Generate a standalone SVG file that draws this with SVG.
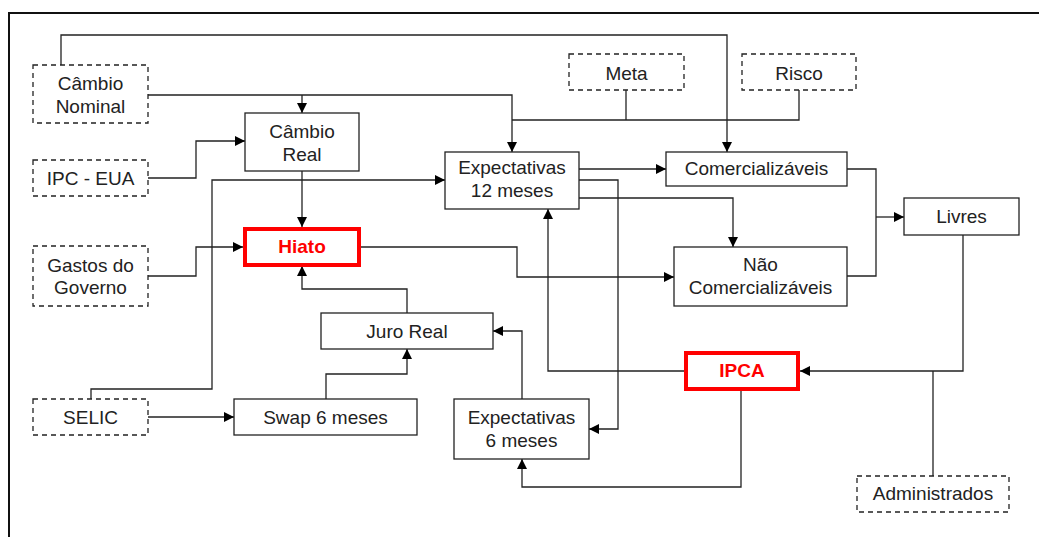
<svg xmlns="http://www.w3.org/2000/svg" width="1039" height="537" viewBox="0 0 1039 537">
<style>
.box{fill:#fff;stroke:#222;stroke-width:1.3}
.dash{fill:#fff;stroke:#222;stroke-width:1.3;stroke-dasharray:5 4}
.hot{fill:#fff;stroke:#f00;stroke-width:4}
.t{font-family:"Liberation Sans",Arial,sans-serif;font-size:19px;fill:#222;text-anchor:middle}
.tr{font-family:"Liberation Sans",Arial,sans-serif;font-size:19px;font-weight:bold;fill:#f00;text-anchor:middle}
.c{fill:none;stroke:#222;stroke-width:1.3}
.a{marker-end:url(#ah)}
</style>
<defs>
<marker id="ah" viewBox="0 0 10 10" refX="10" refY="5" markerWidth="10" markerHeight="10" markerUnits="userSpaceOnUse" orient="auto">
<path d="M0,0 L10,5 L0,10 Z" fill="#000"/>
</marker>
</defs>
<rect width="1039" height="537" fill="#fff"/>
<path d="M9,537 V13 H1039" fill="none" stroke="#111" stroke-width="2"/>
<g id="connectors">
<path class="c a" d="M61,65 V35 H727 V152"/>
<path class="c a" d="M148,95 H512 V152"/>
<path class="c a" d="M302,95 V113"/>
<path class="c" d="M626,90 V120"/>
<path class="c" d="M512,120 H799 V90"/>
<path class="c a" d="M148,178 H196 V141 H245"/>
<path class="c a" d="M302,171 V227"/>
<path class="c a" d="M91,399 V389 H212 V180 H445"/>
<path class="c a" d="M148,276 H196 V247 H243"/>
<path class="c a" d="M361,247 H517 V277 H674"/>
<path class="c a" d="M407,313 V289 H302 V266"/>
<path class="c a" d="M326,399 V374 H407 V349"/>
<path class="c a" d="M522,399 V331 H493"/>
<path class="c a" d="M684,371 H548 V209"/>
<path class="c a" d="M579,169 H666"/>
<path class="c a" d="M579,180 H618 V429 H589"/>
<path class="c a" d="M579,198 H733 V247"/>
<path class="c" d="M847,169 H876 V276 H847"/>
<path class="c a" d="M876,217 H904"/>
<path class="c a" d="M963,235 V371 H800"/>
<path class="c" d="M933,476 V371"/>
<path class="c a" d="M741,391 V487 H522 V459"/>
<path class="c a" d="M148,417 H234"/>
</g>
<g id="cambio-nominal"><rect class="dash" x="33" y="65" width="115" height="58"/><text class="t" x="90.5" y="90">Câmbio</text><text class="t" x="90.5" y="113">Nominal</text></g>
<g id="ipc-eua"><rect class="dash" x="33" y="160" width="115" height="36"/><text class="t" x="90.5" y="185">IPC - EUA</text></g>
<g id="gastos"><rect class="dash" x="33" y="246" width="115" height="60"/><text class="t" x="90.5" y="272">Gastos do</text><text class="t" x="90.5" y="294">Governo</text></g>
<g id="selic"><rect class="dash" x="33" y="399" width="115" height="36"/><text class="t" x="90.5" y="424">SELIC</text></g>
<g id="cambio-real"><rect class="box" x="245" y="113" width="114" height="58"/><text class="t" x="302" y="138">Câmbio</text><text class="t" x="302" y="161">Real</text></g>
<g id="hiato"><rect class="hot" x="245" y="229" width="114" height="36"/><text class="tr" x="302" y="253">Hiato</text></g>
<g id="juro-real"><rect class="box" x="321" y="313" width="172" height="36"/><text class="t" x="407" y="338">Juro Real</text></g>
<g id="swap"><rect class="box" x="234" y="399" width="183" height="36"/><text class="t" x="325.5" y="424">Swap 6 meses</text></g>
<g id="exp12"><rect class="box" x="445" y="152" width="134" height="57"/><text class="t" x="512" y="174">Expectativas</text><text class="t" x="512" y="197">12 meses</text></g>
<g id="exp6"><rect class="box" x="454" y="399" width="135" height="60"/><text class="t" x="521.5" y="424">Expectativas</text><text class="t" x="521.5" y="447">6 meses</text></g>
<g id="meta"><rect class="dash" x="569" y="54" width="115" height="36"/><text class="t" x="626.5" y="80">Meta</text></g>
<g id="risco"><rect class="dash" x="742" y="54" width="114" height="36"/><text class="t" x="799" y="80">Risco</text></g>
<g id="comercializaveis"><rect class="box" x="666" y="152" width="181" height="34"/><text class="t" x="756.5" y="175">Comercializáveis</text></g>
<g id="nao-comercializaveis"><rect class="box" x="674" y="247" width="173" height="59"/><text class="t" x="760.5" y="271">Não</text><text class="t" x="760.5" y="294">Comercializáveis</text></g>
<g id="livres"><rect class="box" x="904" y="198" width="115" height="37"/><text class="t" x="961.5" y="223">Livres</text></g>
<g id="ipca"><rect class="hot" x="686" y="353" width="112" height="36"/><text class="tr" x="742" y="377">IPCA</text></g>
<g id="administrados"><rect class="dash" x="857" y="476" width="152" height="36"/><text class="t" x="933" y="500">Administrados</text></g>
</svg>
